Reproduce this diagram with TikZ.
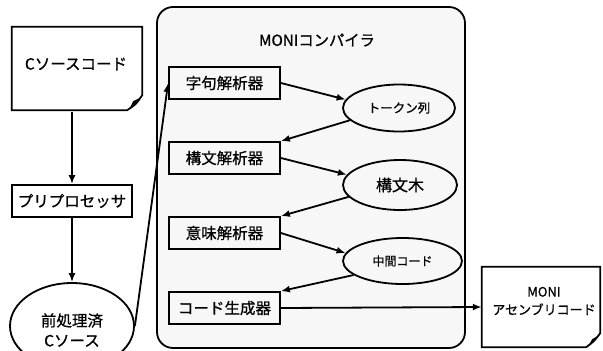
\documentclass[tikz,border=0pt]{standalone}
\usepackage{fontspec}
\setmainfont{Noto Sans CJK JP}[FakeBold=0.8]
\usetikzlibrary{shapes.geometric,arrows.meta,calc}
\begin{document}
\begin{tikzpicture}[x=1pt,y=-1pt,
  ln/.style={line width=1.8pt},
  box/.style={ln,draw,rectangle,minimum width=111pt,minimum height=32pt,inner sep=0pt,font=\fontsize{15.5}{18}\selectfont},
  oval/.style={ln,draw,ellipse,inner sep=0pt},
  doc/.style={rectangle,inner sep=0pt},
  arr/.style={line width=1.8pt,-{Latex[length=9pt,width=7pt]}}]
\clip (0,0) rectangle (603,351);
\useasboundingbox (0,0) rectangle (603,351);
% main compiler frame
\node[ln,draw,rounded corners=16pt,minimum width=308pt,minimum height=341pt,fill=black!3] (moni) at (311,177.5) {};
\node[font=\fontsize{15.3}{18}\selectfont] (title) at (317,40) {MONIコンパイラ};
% C source document
\node[doc,minimum width=130pt,minimum height=83pt] (csrc) at (77,68.5) {};
\node[font=\fontsize{15.5}{18}\selectfont] (csrct) at (76,64) {Cソースコード};
\draw[ln] (csrc.north west) -- (csrc.north east) -- ([yshift=15pt]csrc.south east)
  .. controls ([xshift=-6pt,yshift=6pt]csrc.south east) .. ([xshift=-15pt]csrc.south east)
  -- (csrc.south west) -- cycle;
\fill ([xshift=-13pt,yshift=1pt]csrc.south east) -- ([xshift=-9pt,yshift=9pt]csrc.south east)
  -- ([xshift=-1pt,yshift=13pt]csrc.south east) .. controls ([xshift=-7pt,yshift=7pt]csrc.south east) .. cycle;
% preprocessor
\node[box,minimum width=120pt] (pp) at (72,201) {プリプロセッサ};
% preprocessed source
\node[oval,minimum width=124pt,minimum height=86pt] (pre) at (72,326) {};
\node[font=\fontsize{15.5}{20}\selectfont,align=center] (pret) at (72,330) {前処理済\\Cソース};
% compiler stages
\node[box] (lex) at (224.5,83) {字句解析器};
\node[box] (syn) at (224.5,158) {構文解析器};
\node[box] (sem) at (224.5,233) {意味解析器};
\node[box] (gen) at (224.5,308) {コード生成器};
\node[oval,minimum width=112pt,minimum height=47pt,font=\fontsize{12.5}{15}\selectfont] (tok) at (399,108) {トークン列};
\node[oval,minimum width=114pt,minimum height=50pt,font=\fontsize{16}{18}\selectfont] (ast) at (400,185) {構文木};
\node[oval,minimum width=119pt,minimum height=46pt,font=\fontsize{12}{15}\selectfont] (mid) at (402.5,261) {中間コード};
% assembly document
\node[doc,minimum width=118pt,minimum height=80pt] (asm) at (541,307) {};
\node[font=\fontsize{13}{18}\selectfont,align=center] (asmt) at (544,301) {MONI\\アセンブリコード};
\draw[ln] (asm.north west) -- (asm.north east) -- ([yshift=14pt]asm.south east)
  .. controls ([xshift=-6pt,yshift=6pt]asm.south east) .. ([xshift=-14pt]asm.south east)
  -- (asm.south west) -- cycle;
\fill ([xshift=-12pt,yshift=1pt]asm.south east) -- ([xshift=-8pt,yshift=8pt]asm.south east)
  -- ([xshift=-1pt,yshift=12pt]asm.south east) .. controls ([xshift=-6pt,yshift=6pt]asm.south east) .. cycle;
% connectors
\draw[arr] (csrc.south -| pp.north) ++(0,2) -- (pp.north);
\draw[arr] (pp.south) -- (pre.north);
\draw[arr] (pre.east) -- (lex.west);
\draw[arr] (lex.east) -- (tok.171);
\draw[arr] (tok.194) -- (syn.north east);
\draw[arr] (syn.east) -- (ast.169);
\draw[arr] (ast.193) -- (sem.north east);
\draw[arr] (sem.east) -- (mid.172);
\draw[arr] (mid.196) -- (gen.north east);
\draw[arr] (gen.east) -- (asm.west);
\end{tikzpicture}
\end{document}
